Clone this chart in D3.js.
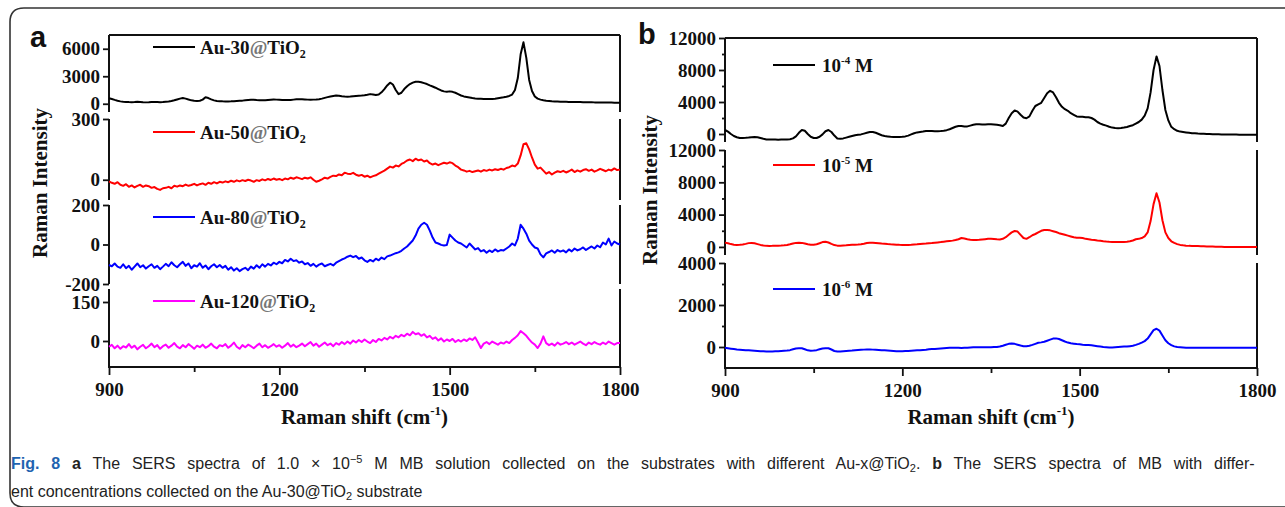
<!DOCTYPE html>
<html>
<head>
<meta charset="utf-8">
<script src="https://cdn.jsdelivr.net/npm/d3@7/dist/d3.min.js"></script>
<style>
  body { margin: 0; background: #fff; }
  svg { display: block; }
  .serif { font-family: "Liberation Serif", "Times New Roman", serif; font-weight: bold; }
  .cap { font-family: "Liberation Sans", Arial, sans-serif; }
</style>
</head>
<body>
<svg width="1285" height="507"></svg>
<script>
// spectra sampled every 5 cm-1 from 900 to 1800 (181 points each)
const shiftStart = 900
const shiftStep = 5

// panel a, 1.0e-5 M MB on different substrates
const au30 = [
  600,520,420,330,260,220,200,180,170,190,220,200,170,150,160,180,200,190,170,180,
  220,250,300,380,470,560,620,560,460,370,320,300,330,450,700,620,480,370,310,280,
  260,250,250,260,280,300,320,340,380,420,440,430,400,380,370,380,410,440,460,450,
  430,410,400,400,420,450,480,500,490,470,450,440,450,470,500,560,640,720,800,850,
  900,880,820,780,760,780,820,850,880,900,930,980,1050,1000,950,1000,1250,1600,2000,2300,
  2100,1500,1050,1200,1600,1900,2150,2300,2400,2400,2350,2250,2150,2000,1880,1750,1600,1450,1350,1300,
  1350,1300,1200,1050,900,800,740,680,620,580,550,540,530,520,510,520,550,600,650,700,
  760,850,1000,1500,2800,5400,6700,5000,2600,1400,800,560,450,380,330,300,270,250,240,230,
  220,210,200,200,190,180,180,170,170,160,160,150,150,150,140,140,130,130,120,120,
  120
]
const au50 = [
  -8,-15,-20,-12,-25,-30,-22,-35,-28,-38,-30,-25,-35,-28,-32,-40,-36,-45,-50,-42,
  -40,-35,-42,-30,-34,-28,-32,-24,-30,-26,-20,-28,-22,-18,-25,-15,-20,-12,-18,-10,
  -14,-8,-12,-5,-10,-3,-8,-2,-6,0,-4,-10,-2,-6,2,-3,4,-1,6,0,
  4,-2,6,2,10,5,12,8,3,10,6,12,0,-10,-5,2,10,6,14,20,
  18,26,22,35,30,28,34,25,20,24,15,20,12,18,22,30,38,45,55,65,
  60,70,66,78,85,95,100,92,104,96,100,90,95,82,75,80,72,78,84,80,
  86,82,70,62,50,46,40,44,38,42,46,40,48,44,50,46,52,48,54,50,
  58,62,70,66,80,120,175,180,150,110,75,55,60,45,30,38,26,35,42,38,
  44,36,42,50,38,46,40,48,52,44,50,40,46,54,48,42,50,46,56,48,
  50
]
const au80 = [
  -104,-110,-96,-112,-118,-100,-120,-108,-128,-112,-96,-115,-105,-122,-110,-100,-118,-108,-125,-112,
  -98,-110,-90,-105,-115,-100,-88,-108,-96,-120,-105,-112,-95,-118,-106,-125,-110,-100,-115,-104,
  -118,-108,-128,-115,-132,-120,-135,-125,-118,-130,-112,-122,-105,-118,-100,-112,-98,-106,-92,-100,
  -88,-95,-78,-86,-72,-84,-80,-92,-86,-100,-94,-108,-98,-112,-102,-96,-110,-104,-98,-106,
  -92,-84,-76,-70,-62,-56,-64,-58,-72,-66,-80,-88,-78,-86,-72,-80,-66,-74,-60,-56,
  -50,-44,-40,-32,-20,-10,5,20,45,80,100,110,100,70,35,10,5,-2,-5,-3,
  50,35,20,10,5,-5,-15,5,-10,-25,-18,-35,-28,-42,-30,-38,-25,-35,-28,-30,
  -20,-10,5,-5,30,100,80,55,20,0,-15,-20,-50,-65,-45,-38,-30,-42,-28,-36,
  -30,-40,-25,-35,-20,-30,-24,-15,-28,-18,-10,-20,-5,-14,10,0,30,-5,15,5,
  0
]
const au120 = [
  -22,-15,-28,-18,-30,-20,-25,-12,-26,-18,-32,-22,-15,-28,-20,-10,-24,-16,-30,-20,
  -14,-26,-18,-8,-22,-28,-16,-24,-12,-20,-30,-18,-24,-14,-26,-20,-10,-22,-28,-16,
  -20,-12,-26,-18,-6,-22,-30,-16,-24,-14,-20,-28,-18,-10,-24,-16,-26,-20,-12,-22,
  -16,-26,-18,-8,-22,-14,-24,-18,-10,-20,-12,-4,-18,-10,-22,-14,-6,-16,-10,-20,
  -8,-14,-4,-12,-2,-10,2,-6,4,-4,6,-2,-8,4,-4,8,2,12,6,16,
  10,20,14,24,18,28,22,35,26,30,20,26,14,20,8,14,2,10,-2,6,
  0,8,-4,4,-2,6,0,10,4,14,-6,-27,-10,-4,-12,-2,-8,-14,-6,-10,
  -2,-8,4,12,22,38,30,20,6,-6,-14,-27,-10,18,-8,-16,-10,-18,-6,-14,
  -10,-4,-12,-6,-14,-8,-2,-10,-16,-6,-12,-4,-10,-14,-6,-12,-2,-8,-14,-8,
  -8
]

// panel b, MB concentrations on Au-30@TiO2
const mb4 = [
  500,300,0,-250,-400,-500,-500,-480,-450,-400,-380,-400,-500,-600,-680,-700,-700,-700,-720,-700,
  -700,-680,-650,-550,-300,150,500,400,0,-350,-500,-500,-350,-50,350,500,250,-200,-550,-600,
  -550,-450,-350,-250,-150,-100,-50,50,150,250,250,150,0,-150,-250,-300,-350,-370,-370,-360,
  -350,-300,-200,-50,100,200,250,300,370,380,370,350,350,380,420,480,600,750,900,1000,
  1000,950,950,1050,1150,1230,1230,1200,1200,1230,1230,1200,1150,1100,1000,1300,2000,2600,2950,2800,
  2400,2050,1970,2200,2900,3500,3700,3900,4500,5100,5400,5200,4600,3900,3400,3100,2900,2600,2400,2200,
  2150,2150,2100,2100,2000,1800,1500,1300,1150,1050,900,800,740,720,740,800,880,1000,1100,1300,
  1500,1800,2300,3200,5200,8000,9700,8500,5500,3000,1700,900,600,400,300,250,200,150,100,80,
  50,30,20,0,0,-20,-30,-40,-50,-50,-60,-60,-70,-70,-80,-80,-90,-90,-100,-100,
  -100
]
const mb5 = [
  530,450,350,280,250,260,300,380,470,500,450,350,250,180,130,120,130,150,160,170,
  200,250,330,420,500,530,500,420,330,280,280,330,450,600,650,550,380,230,160,160,
  180,200,230,260,280,300,330,400,480,530,530,500,460,420,390,350,320,300,280,260,
  250,250,250,270,300,330,370,400,420,450,480,520,560,600,650,700,740,780,850,950,
  1100,1050,950,900,870,860,880,920,960,1000,1000,980,950,930,1000,1200,1500,1800,1970,1900,
  1500,1100,1000,1200,1450,1600,1800,2000,2100,2100,2050,1950,1850,1700,1600,1500,1400,1300,1200,1150,
  1150,1100,1000,950,900,860,800,750,700,660,630,620,610,610,620,620,650,700,800,950,
  1000,1100,1300,1800,3200,5300,6640,5500,3300,1800,1100,700,500,350,250,200,160,130,120,110,
  100,90,80,60,50,40,30,20,10,0,0,0,-10,-10,0,-10,-10,0,-10,0,
  0
]
const mb6 = [
  -40,-60,-80,-100,-120,-130,-140,-150,-160,-170,-180,-190,-200,-200,-210,-210,-210,-200,-200,-190,
  -180,-170,-150,-110,-70,-60,-60,-110,-160,-180,-170,-150,-110,-70,-60,-60,-120,-190,-210,-210,
  -200,-190,-180,-170,-150,-140,-130,-125,-120,-120,-125,-130,-140,-150,-160,-170,-180,-190,-200,-200,
  -200,-195,-190,-180,-170,-160,-150,-140,-130,-110,-100,-90,-80,-70,-60,-50,-40,-30,-30,-40,
  -50,-40,-30,-20,-10,-10,-10,-10,-10,-10,-10,0,0,20,60,110,150,165,150,110,
  70,40,40,60,100,150,200,220,250,300,350,400,410,380,320,260,210,180,160,140,
  130,110,100,90,80,60,40,20,0,-10,-20,-20,-10,0,10,20,20,40,60,100,
  150,210,280,400,600,800,870,780,550,320,180,90,30,0,-10,-20,-30,-30,-30,-40,
  -40,-40,-40,-40,-40,-40,-40,-40,-40,-40,-40,-40,-40,-40,-40,-40,-40,-40,-40,-40,
  -40
]

const shiftTicks = [900, 1200, 1500, 1800]
const shiftMinor = [1050, 1350, 1650]
const substrates = ['Au-30', 'Au-50', 'Au-80', 'Au-120']
const concExp = ['-4', '-5', '-6']

// layout
const panels = [
  {
    letter: 'a', lx: 30, ly: 47, x0: 109, x1: 620, titleX: 47, titleY: 183,
    subs: [
      { values: au30, color: '#000000', domain: [-900, 7500], range: [112, 35], ticks: [0, 3000, 6000], minor: [], legY: 47, name: substrates[0] },
      { values: au50, color: '#ff0000', domain: [-100, 300], range: [200, 119], ticks: [0, 300], minor: [], legY: 132, name: substrates[1] },
      { values: au80, color: '#0000ff', domain: [-200, 200], range: [284, 205], ticks: [-200, 0, 200], minor: [], legY: 217, name: substrates[2] },
      { values: au120, color: '#ff00ff', domain: [-100, 200], range: [367, 289], ticks: [0, 150], minor: [], legY: 301, name: substrates[3] }
    ],
    legX0: 153, legX1: 195, legT: 200
  },
  {
    letter: 'b', lx: 638, ly: 44, x0: 725, x1: 1257, titleX: 657, titleY: 190,
    subs: [
      { values: mb4, color: '#000000', domain: [-1000, 12000], range: [142, 38], ticks: [0, 4000, 8000, 12000], minor: [2000, 6000, 10000], legY: 65, exp: concExp[0] },
      { values: mb5, color: '#ff0000', domain: [-1000, 12000], range: [255, 150], ticks: [0, 4000, 8000, 12000], minor: [2000, 6000, 10000], legY: 165, exp: concExp[1] },
      { values: mb6, color: '#0000ff', domain: [-1000, 4000], range: [368, 263], ticks: [0, 2000, 4000], minor: [1000, 3000], legY: 289, exp: concExp[2] }
    ],
    legX0: 773, legX1: 815, legT: 822
  }
]

const plain = function (d) { return String(d) }

const svg = d3.select('svg')
svg.append('rect').attr('width', 1285).attr('height', 507).attr('fill', '#fff')

// outer rounded frame
svg.append('path')
  .attr('d', 'M1290,8 H24 Q10,8 10,22 V493 Q10,507 24,507 H1290')
  .attr('fill', 'none').attr('stroke', '#333').attr('stroke-width', 1.6)

const ink = '#111'

panels.forEach(function (p) {
  const x = d3.scaleLinear().domain([900, 1800]).range([p.x0, p.x1])
  const g = svg.append('g').attr('class', 'serif')

  p.subs.forEach(function (s, i) {
    const y = d3.scaleLinear().domain(s.domain).range(s.range)

    const yAxis = g.append('g')
      .attr('transform', 'translate(' + p.x0 + ',0)')
      .call(d3.axisLeft(y).tickValues(s.ticks).tickFormat(plain).tickSize(6).tickPadding(3).tickSizeOuter(0))
    yAxis.select('.domain').remove()
    if (s.minor.length) {
      g.append('g')
        .attr('transform', 'translate(' + p.x0 + ',0)')
        .call(d3.axisLeft(y).tickValues(s.minor).tickSize(3).tickFormat('').tickSizeOuter(0))
        .select('.domain').remove()
    }

    // frame pieces
    g.append('line').attr('x1', p.x0).attr('x2', p.x0).attr('y1', s.range[1]).attr('y2', s.range[0])
      .attr('stroke', ink).attr('stroke-width', 2)
    g.append('line').attr('x1', p.x1).attr('x2', p.x1).attr('y1', s.range[1]).attr('y2', s.range[0])
      .attr('stroke', ink).attr('stroke-width', 2)
    if (i === 0) {
      g.append('line').attr('x1', p.x0).attr('x2', p.x1).attr('y1', s.range[1]).attr('y2', s.range[1])
        .attr('stroke', ink).attr('stroke-width', 2)
    }
    if (i === p.subs.length - 1) {
      const xAxis = g.append('g')
        .attr('transform', 'translate(0,' + s.range[0] + ')')
        .call(d3.axisBottom(x).tickValues(shiftTicks).tickFormat(plain).tickSize(8).tickPadding(8).tickSizeOuter(0))
      xAxis.select('.domain').remove()
      g.append('g')
        .attr('transform', 'translate(0,' + s.range[0] + ')')
        .call(d3.axisBottom(x).tickValues(shiftMinor).tickSize(5).tickFormat('').tickSizeOuter(0))
        .select('.domain').remove()
      g.append('line').attr('x1', p.x0 - 1).attr('x2', p.x1 + 1).attr('y1', s.range[0]).attr('y2', s.range[0])
        .attr('stroke', ink).attr('stroke-width', 2)
    }

    // spectrum
    const line = d3.line()
      .x(function (d, k) { return x(shiftStart + k * shiftStep) })
      .y(function (d) { return y(d) })
    g.append('path').datum(s.values)
      .attr('d', line)
      .attr('fill', 'none')
      .attr('stroke', s.color)
      .attr('stroke-width', 2)
      .attr('stroke-linejoin', 'round')

    // legend
    g.append('line').attr('x1', p.legX0).attr('x2', p.legX1).attr('y1', s.legY).attr('y2', s.legY)
      .attr('stroke', s.color).attr('stroke-width', 2)
    const t = g.append('text').attr('x', p.legT).attr('y', s.legY + 7)
      .attr('font-size', 19).attr('fill', ink)
    if (s.name) {
      t.append('tspan').text(s.name)
      t.append('tspan').attr('fill', '#777').text('@')
      t.append('tspan').text('TiO')
      t.append('tspan').attr('font-size', 12).attr('dy', 4).text('2')
    } else {
      t.append('tspan').text('10')
      t.append('tspan').attr('font-size', 11).attr('dy', -8).text(s.exp)
      t.append('tspan').attr('dy', 8).text(' M')
    }
  })

  g.selectAll('.tick line').attr('stroke', ink).attr('stroke-width', 1.8)
  g.selectAll('.tick text').attr('fill', ink).attr('font-size', 19)
    .style('font-family', '"Liberation Serif", "Times New Roman", serif').style('font-weight', 'bold')

  // axis titles
  g.append('text')
    .attr('transform', 'translate(' + p.titleX + ',' + p.titleY + ') rotate(-90)')
    .attr('text-anchor', 'middle').attr('font-size', 21).attr('fill', ink)
    .text('Raman Intensity')
  const xt = g.append('text')
    .attr('x', (p.x0 + p.x1) / 2).attr('y', 424)
    .attr('text-anchor', 'middle').attr('font-size', 21).attr('fill', ink)
  xt.append('tspan').text('Raman shift (cm')
  xt.append('tspan').attr('font-size', 13).attr('dy', -9).text('-1')
  xt.append('tspan').attr('dy', 9).text(')')

  // panel letter
  svg.append('text').attr('x', p.lx).attr('y', p.ly)
    .attr('font-family', '"Liberation Sans", Arial, sans-serif').attr('font-weight', 'bold')
    .attr('font-size', 29).attr('fill', '#111').text(p.letter)
})

// caption (first line is justified, so it gets extra word spacing)
const cap1 = svg.append('text').attr('class', 'cap').attr('x', 11).attr('y', 469)
  .attr('font-size', 16).attr('fill', '#222').attr('word-spacing', 7.4)
cap1.append('tspan').attr('font-weight', 'bold').attr('fill', '#1f63b0').text('Fig. 8')
cap1.append('tspan').attr('font-weight', 'bold').text(' a')
cap1.append('tspan').text(' The SERS spectra of 1.0 \u00d7 10')
cap1.append('tspan').attr('font-size', 11).attr('dy', -6).text('\u22125')
cap1.append('tspan').attr('dy', 6).text(' M MB solution collected on the substrates with different Au-x@TiO')
cap1.append('tspan').attr('font-size', 11).attr('dy', 3).text('2')
cap1.append('tspan').attr('dy', -3).text('. ')
cap1.append('tspan').attr('font-weight', 'bold').text('b')
cap1.append('tspan').text(' The SERS spectra of MB with differ-')

const cap2 = svg.append('text').attr('class', 'cap').attr('x', 11).attr('y', 497)
  .attr('font-size', 16).attr('fill', '#222')
cap2.append('tspan').text('ent concentrations collected on the Au-30@TiO')
cap2.append('tspan').attr('font-size', 11).attr('dy', 3).text('2')
cap2.append('tspan').attr('dy', -3).text(' substrate')
</script>
</body>
</html>
